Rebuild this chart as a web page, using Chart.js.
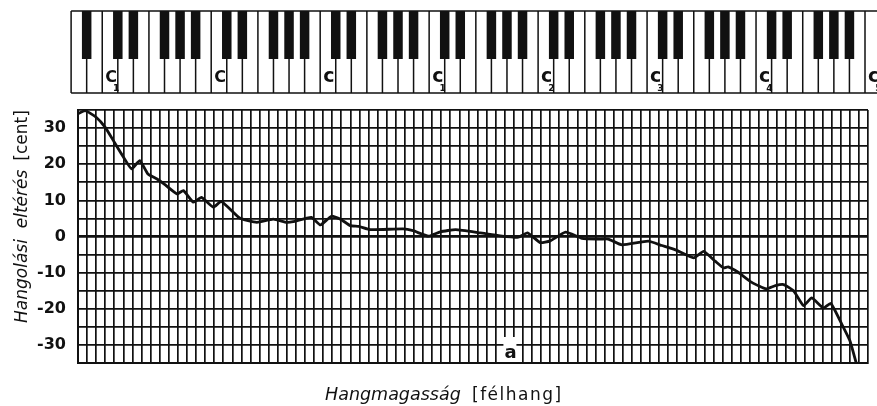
<!DOCTYPE html>
<html>
<head>
<meta charset="utf-8">
<script src="https://cdn.jsdelivr.net/npm/chart.js@4.4.1/dist/chart.umd.min.js"></script>
<style>
  html, body { margin: 0; padding: 0; background: #fff; }
  #wrap { width: 877px; height: 406px; }
</style>
</head>
<body>
<div id="wrap"><canvas id="tuning" width="877" height="406"></canvas></div>
<script>
// félhang (0 = A0 ... 87 = C8) és a hangolási eltérés centben
const semitone = [0, 0.8, 2, 3, 4, 5, 5.9, 6.8, 7.7, 8.7, 9.5, 10.9, 11.6, 12.7, 13.6, 14.9, 15.8, 17.8,
  19.7, 21.5, 23, 23.7, 25.7, 26.7, 27.9, 28.9, 30, 30.9, 32.2, 35.8, 36.9, 38.6, 39.9, 41.6, 44.3,
  46.5, 48.5, 49.5, 50.9, 52, 53.7, 55.5, 57.5, 58.4, 59.9, 62.8, 64.3, 65.8, 67.8, 68.9, 70.2, 71.1,
  71.6, 72.7, 74.2, 75.8, 76.8, 77.7, 78.8, 79.9, 80.8, 82.1, 82.9, 84.1, 85, 85.7];
const cents = [34.0, 34.8, 33.0, 30.2, 26.1, 22.0, 18.7, 21.0, 17.3, 15.9, 14.5, 11.8, 12.7, 9.5, 10.8, 8.1,
  9.7, 5.1, 3.9, 4.8, 3.9, 4.1, 5.3, 3.2, 5.6, 4.8, 3.0, 2.8, 1.9, 2.1, 1.6, 0.1, 1.3, 1.9, 1.0,
  0.2, -0.2, 1.0, -1.7, -1.2, 1.2, -0.5, -0.7, -0.7, -2.3, -1.3, -2.5, -3.7, -5.9, -4.1, -6.9, -8.7,
  -8.4, -9.9, -12.7, -14.5, -13.6, -13.3, -15.0, -19.1, -17.0, -19.8, -18.5, -24.2, -28.8, -35];

const yLabels = [30, 20, 10, 0, -10, -20, -30];

// oktávok C hangjai a billentyűzeten
const octaveC = [3, 15, 27, 39, 51, 63, 75, 87];
const octaveName = ['C', 'C', 'c', 'c', 'c', 'c', 'c', 'c'];
const octaveSub = ['1', '', '', '1', '2', '3', '4', '5'];

const INK = '#111';

const decorations = {
  id: 'decorations',
  afterDraw(chart) {
    const ctx = chart.ctx;
    const x = chart.scales.x;
    const area = chart.chartArea;
    const semi = x.getPixelForValue(1) - x.getPixelForValue(0);
    const W = semi * 12 / 7;                 // fehér billentyű szélessége
    const left = x.getPixelForValue(3) - 3 - 2 * W;
    const top = 11, bottom = 93, blackBottom = 59, bw = 9.5;

    ctx.save();
    // --- billentyűzet ---
    ctx.fillStyle = '#fff';
    ctx.fillRect(left, top, 52 * W, bottom - top);
    ctx.strokeStyle = INK;
    ctx.lineWidth = 1.5;
    ctx.beginPath();
    for (let k = 0; k <= 52; k++) {
      ctx.moveTo(left + k * W, top);
      ctx.lineTo(left + k * W, bottom);
    }
    ctx.moveTo(left, top); ctx.lineTo(left + 52 * W, top);
    ctx.moveTo(left, bottom); ctx.lineTo(left + 52 * W, bottom);
    ctx.stroke();

    ctx.fillStyle = INK;
    for (let k = 0; k < 51; k++) {
      const n = (k + 5) % 7; // 0 = C
      if ([0, 1, 3, 4, 5].includes(n)) {
        const cx = left + (k + 1) * W;
        ctx.fillRect(cx - bw / 2, top, bw, blackBottom - top);
      }
    }

    // oktávjelzések
    ctx.textBaseline = 'alphabetic';
    ctx.textAlign = 'left';
    octaveC.forEach((s, j) => {
      const bx = x.getPixelForValue(s);
      const big = octaveName[j] === 'C';
      ctx.font = (big ? 'bold 16px' : 'bold 19px') + ' "DejaVu Sans"';
      ctx.fillText(octaveName[j], bx, 82);
      const wdt = ctx.measureText(octaveName[j]).width;
      if (octaveSub[j]) {
        ctx.font = 'bold 9px "DejaVu Sans"';
        ctx.fillText(octaveSub[j], bx + wdt - 4, 91);
      }
    });

    // --- "a" jel ---
    const ax = x.getPixelForValue(46.85);
    ctx.fillStyle = '#fff';
    ctx.fillRect(ax, area.bottom - 26, 13, 25);
    ctx.fillStyle = INK;
    ctx.font = 'bold 18px "DejaVu Sans"';
    ctx.fillText('a', ax + 1, area.bottom - 5);

    // --- tengelyfeliratok ---
    ctx.font = 'italic 17.5px "DejaVu Sans"';
    ctx.fillText('Hangmagasság', 325, 400);
    let end = 325 + ctx.measureText('Hangmagasság').width;
    ctx.font = '17px "DejaVu Sans"';
    ctx.letterSpacing = '1.5px';
    ctx.fillText('[félhang]', Math.max(472, end + 10), 400);
    ctx.letterSpacing = '0px';

    ctx.translate(27, 323);
    ctx.rotate(-Math.PI / 2);
    ctx.font = 'italic 17px "DejaVu Sans"';
    ctx.fillText('Hangolási  eltérés', 0, 0);
    end = ctx.measureText('Hangolási  eltérés').width;
    ctx.font = '17px "DejaVu Sans"';
    ctx.fillText('[cent]', end + 9, 0);
    ctx.restore();
  }
};

new Chart(document.getElementById('tuning'), {
  type: 'line',
  data: {
    datasets: [{
      data: semitone.map((s, i) => ({ x: s, y: cents[i] })),
      borderColor: INK,
      borderWidth: 2.8,
      pointRadius: 0,
      tension: 0.15,
      fill: false
    }]
  },
  options: {
    responsive: false,
    animation: false,
    layout: { padding: { top: 110, right: 9, bottom: 43, left: 0 } },
    plugins: { legend: { display: false }, tooltip: { enabled: false } },
    scales: {
      x: {
        type: 'linear',
        min: 0,
        max: 87,
        ticks: { stepSize: 1, display: false, autoSkip: false },
        grid: { color: INK, lineWidth: 1.7, drawTicks: false },
        border: { color: INK, width: 2 },
        afterFit: s => { s.height = 0; }
      },
      y: {
        min: -35,
        max: 35,
        ticks: {
          stepSize: 5,
          autoSkip: false,
          padding: 12,
          color: INK,
          font: { family: 'DejaVu Sans', size: 16, weight: 'bold' },
          callback: v => yLabels.includes(v) ? String(v) : ''
        },
        grid: {
          color: INK,
          drawTicks: false,
          lineWidth: c => c.tick && c.tick.value === 0 ? 2.8 : 1.7
        },
        border: { color: INK, width: 2 },
        afterFit: s => { s.width = 78; }
      }
    }
  },
  plugins: [decorations]
});
</script>
</body>
</html>
